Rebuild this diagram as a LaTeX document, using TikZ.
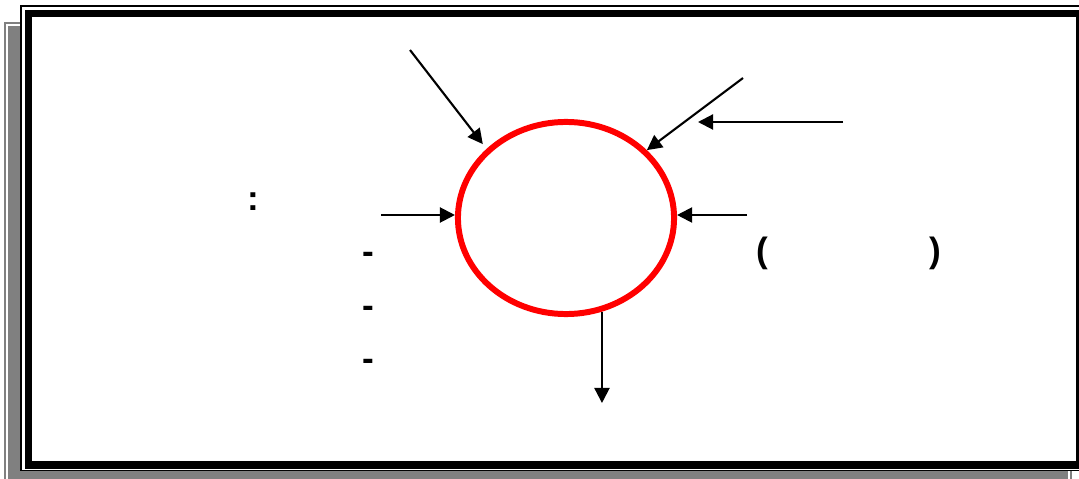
\documentclass[tikz,border=0pt]{standalone}
\usepackage{fontspec}
\setmainfont{Liberation Sans}
\usetikzlibrary{arrows.meta, positioning, shapes.geometric}
\definecolor{ringRed}{HTML}{FF0000}
\definecolor{shadeGray}{HTML}{808080}
\tikzset{
  arrowK/.style={-{Triangle[length=0.15cm, width=0.15cm]}, line width=0.6pt},
  ring/.style={ellipse, draw=ringRed, line width=1.7pt, minimum width=2.16cm,
               minimum height=1.92cm, inner sep=0pt},
  txt/.style={font=\bfseries\fontsize{10}{12}\selectfont, inner sep=0pt, anchor=base},
}

\begin{document}
\begin{tikzpicture}[x=0.01cm, y=-0.01cm, node distance=0.53cm]
    \useasboundingbox (0,0) rectangle (1079,479);
    % shadow of the page border
    \fill[shadeGray] (4,22) rectangle (1072,485);
    \draw[white, line width=0.6pt] (7,25) rectangle (1069,490);
    % double border
    \fill[white] (20.75,5.75) rectangle (1087,470.5);
    \draw[line width=0.45pt] (20.75,5.75) rectangle (1087,470.5);
    \draw[line width=2pt] (28.5,13.5) rectangle (1079.5,465);

    \node[ring] (sys) at (566,218) {};

    \coordinate (in1) at (410,50);
    \coordinate (in2) at (743,78);
    \coordinate (fb) at (843,122);
    \coordinate (fbTip) at (698,122);
    \coordinate (in4) at (381,215);
    \coordinate (in5) at (747,215);
    \coordinate (out6) at (602,403);

    \draw[arrowK, shorten >=0.06cm] (in1) -- (sys.139);
    \draw[arrowK] (in2) -- (sys.40);
    \draw[arrowK] (fb) -- (fbTip);
    \draw[arrowK] (in4) -- (in4 -| sys.west);
    \draw[arrowK] (in5) -- (in5 -| sys.east);
    \draw[arrowK] (sys.-69) -- (sys.-69 |- out6);

    \node[txt] (colon) at (253,211) {:};
    \node[txt] (d1) at (368,264) {-};
    \node[txt, on grid, below=of d1] (d2) {-};
    \node[txt, on grid, below=of d2] (d3) {-};
    \node[txt] (lpar) at (762,262) {(};
    \node[txt] (rpar) at (935,262) {)};
  \end{tikzpicture}
\end{document}
